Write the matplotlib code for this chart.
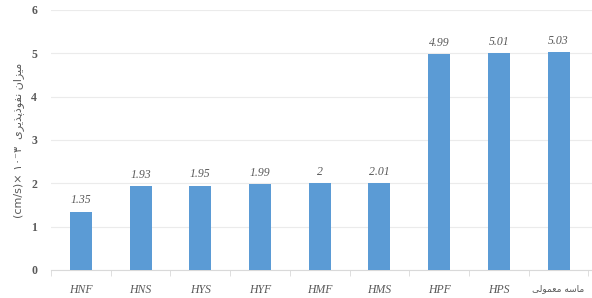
import matplotlib.pyplot as plt
import numpy as np

# data
categories = ["HNF", "HNS", "HYS", "HYF", "HMF", "HMS", "HPF", "HPS", "ماسه معمولی"]
values = [1.35, 1.93, 1.95, 1.99, 2, 2.01, 4.99, 5.01, 5.03]
value_labels = ["1.35", "1.93", "1.95", "1.99", "2", "2.01", "4.99", "5.01", "5.03"]
y_ticks = [0, 1, 2, 3, 4, 5, 6]
y_label_fa = "میزان نفوذپذیری"

# minimal arabic-script shaping (matplotlib has no RTL shaping)
# letter: (isolated, final, initial, medial); 2-tuple -> no forward joining
FORMS = {
    "ا": (0xFE8D, 0xFE8E), "د": (0xFEA9, 0xFEAA), "ذ": (0xFEAB, 0xFEAC),
    "ر": (0xFEAD, 0xFEAE), "ز": (0xFEAF, 0xFEB0), "و": (0xFEED, 0xFEEE),
    "م": (0xFEE1, 0xFEE2, 0xFEE3, 0xFEE4), "ی": (0xFBFC, 0xFBFD, 0xFBFE, 0xFBFF),
    "ن": (0xFEE5, 0xFEE6, 0xFEE7, 0xFEE8), "ف": (0xFED1, 0xFED2, 0xFED3, 0xFED4),
    "پ": (0xFB56, 0xFB57, 0xFB58, 0xFB59), "س": (0xFEB1, 0xFEB2, 0xFEB3, 0xFEB4),
    "ه": (0xFEE9, 0xFEEA, 0xFEEB, 0xFEEC), "ع": (0xFEC9, 0xFECA, 0xFECB, 0xFECC),
    "ل": (0xFEDD, 0xFEDE, 0xFEDF, 0xFEE0),
}


def shape(text):
    out = []
    for i, ch in enumerate(text):
        if ch not in FORMS:
            out.append(ch)
            continue
        prev = text[i - 1] if i > 0 else ""
        nxt = text[i + 1] if i + 1 < len(text) else ""
        joins_prev = prev in FORMS and len(FORMS[prev]) == 4
        joins_next = len(FORMS[ch]) == 4 and nxt in FORMS
        f = FORMS[ch]
        if joins_prev and joins_next:
            code = f[3]
        elif joins_prev:
            code = f[1]
        elif joins_next:
            code = f[2]
        else:
            code = f[0]
        out.append(chr(code))
    return "".join(out)[::-1]


def fa(text):
    if any(c in FORMS for c in text):
        return shape(text)
    return text


grey = "#595959"
bar_color = "#5B9BD5"

fig = plt.figure(figsize=(5.92, 2.98), dpi=100)
ax = fig.add_axes([51 / 592, 28 / 298, 541 / 592, 260 / 298])

x = np.arange(len(categories))
ax.bar(x, values, width=0.37, color=bar_color, zorder=3)

for xi, v, lab in zip(x, values, value_labels):
    ax.text(xi, v + 0.12, lab, ha="center", va="bottom", fontsize=8.5,
            family="Liberation Serif", style="italic", color=grey)

ax.set_xlim(-0.5, len(categories) - 0.5 + 0.06)
ax.set_ylim(0, 6)
ax.set_yticks(y_ticks)
ax.set_yticklabels([str(t) for t in y_ticks], family="Liberation Serif",
                   fontweight="bold", fontsize=8.5, color=grey)
ax.set_xticks(x)
ax.set_xticklabels([fa(c) for c in categories], fontsize=8.5, color=grey)
for t, c in zip(ax.get_xticklabels(), categories):
    if c.isascii():
        t.set_family("Liberation Serif")
        t.set_style("italic")
    else:
        t.set_family("DejaVu Sans")
        t.set_fontsize(6.5)

# tick marks between categories on the baseline
ax.set_xticks(np.arange(len(categories) + 1) - 0.5, minor=True)
ax.tick_params(axis="x", which="major", length=0, pad=10)
ax.tick_params(axis="x", which="minor", length=4, color="#d9d9d9")
ax.tick_params(axis="y", length=0, pad=10)

ax.grid(axis="y", color="#ebebeb", linewidth=0.8, zorder=0)
for s in ["top", "right", "left"]:
    ax.spines[s].set_visible(False)
ax.spines["bottom"].set_color("#d9d9d9")

ylab = "(cm/s)× ۱۰⁻۳  " + fa(y_label_fa)
ax.set_ylabel(ylab, family=["DejaVu Sans"], fontsize=8, color=grey, labelpad=5)

fig.savefig("out.png", dpi=100)
